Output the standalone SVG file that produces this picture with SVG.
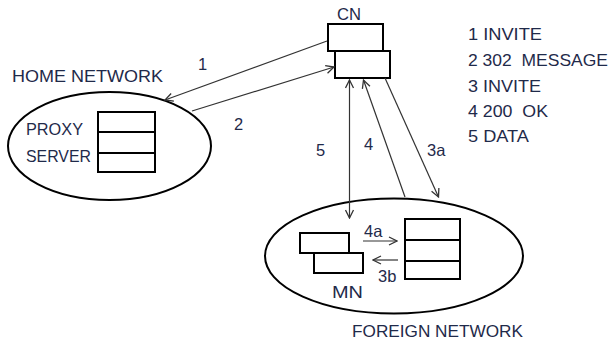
<svg xmlns="http://www.w3.org/2000/svg" width="612" height="340" viewBox="0 0 612 340">
<style>
.box{fill:#fff;stroke:#000;stroke-width:2}
.ell{fill:none;stroke:#000;stroke-width:2}
.ln{fill:none;stroke:#333;stroke-width:1.2}
.t{font-family:"Liberation Sans",Arial,sans-serif;font-size:16.5px;fill:#1f2a4a}
</style>
<defs>
<marker id="ah" viewBox="0 0 10 10" refX="9" refY="5" markerWidth="10" markerHeight="10" markerUnits="userSpaceOnUse" orient="auto-start-reverse">
<path d="M1,1 L9,5 L1,9" fill="none" stroke="#333" stroke-width="1.3"/>
</marker>
</defs>
<rect width="612" height="340" fill="#fff"/>
<g id="home-network">
<ellipse class="ell" cx="109.5" cy="146" rx="101.5" ry="54"/>
<text class="t" x="12" y="82" textLength="151" lengthAdjust="spacingAndGlyphs">HOME NETWORK</text>
<text class="t" x="26" y="135" textLength="57" lengthAdjust="spacingAndGlyphs">PROXY</text>
<text class="t" x="26" y="162" textLength="65" lengthAdjust="spacingAndGlyphs">SERVER</text>
<rect class="box" x="98" y="112" width="57" height="20"/>
<rect class="box" x="98" y="132" width="57" height="21"/>
<rect class="box" x="98" y="153" width="57" height="19"/>
</g>
<g id="cn">
<text class="t" x="337" y="20" textLength="24" lengthAdjust="spacingAndGlyphs">CN</text>
<rect class="box" x="328" y="24" width="55" height="27"/>
<rect class="box" x="335" y="51" width="55" height="27"/>
</g>
<g id="foreign-network">
<ellipse class="ell" cx="394" cy="256" rx="129" ry="57.5"/>
<text class="t" x="352" y="337" textLength="171" lengthAdjust="spacingAndGlyphs">FOREIGN NETWORK</text>
</g>
<g id="mn">
<rect class="box" x="300" y="233" width="49" height="20"/>
<rect class="box" x="314" y="253" width="49" height="20"/>
<text class="t" x="332" y="298" textLength="31" lengthAdjust="spacingAndGlyphs">MN</text>
</g>
<g id="foreign-server">
<rect class="box" x="405" y="219" width="55" height="21"/>
<rect class="box" x="405" y="240" width="55" height="21"/>
<rect class="box" x="405" y="261" width="55" height="18"/>
</g>
<g id="connectors">
<line class="ln" x1="327" y1="41" x2="165" y2="100" marker-end="url(#ah)"/>
<line class="ln" x1="192" y1="111" x2="334" y2="67" marker-end="url(#ah)"/>
<line class="ln" x1="349.5" y1="80" x2="349.5" y2="218" marker-start="url(#ah)" marker-end="url(#ah)"/>
<line class="ln" x1="405" y1="197" x2="363.5" y2="80" marker-end="url(#ah)"/>
<line class="ln" x1="385" y1="78" x2="438.5" y2="197" marker-end="url(#ah)"/>
<line class="ln" x1="363" y1="241" x2="397" y2="241" marker-end="url(#ah)"/>
<line class="ln" x1="398" y1="260" x2="373" y2="260" marker-end="url(#ah)"/>
<text class="t" x="198" y="70">1</text>
<text class="t" x="234" y="130">2</text>
<text class="t" x="316" y="156">5</text>
<text class="t" x="364" y="150">4</text>
<text class="t" x="427" y="156">3a</text>
<text class="t" x="364" y="237">4a</text>
<text class="t" x="378" y="282">3b</text>
</g>
<g id="legend">
<text class="t" x="468" y="40" textLength="74" lengthAdjust="spacingAndGlyphs">1 INVITE</text>
<text class="t" x="468" y="66" textLength="140" lengthAdjust="spacingAndGlyphs" xml:space="preserve">2 302  MESSAGE</text>
<text class="t" x="468" y="92" textLength="73" lengthAdjust="spacingAndGlyphs">3 INVITE</text>
<text class="t" x="468" y="117" textLength="80" lengthAdjust="spacingAndGlyphs" xml:space="preserve">4 200  OK</text>
<text class="t" x="468" y="142" textLength="61" lengthAdjust="spacingAndGlyphs">5 DATA</text>
</g>
</svg>
